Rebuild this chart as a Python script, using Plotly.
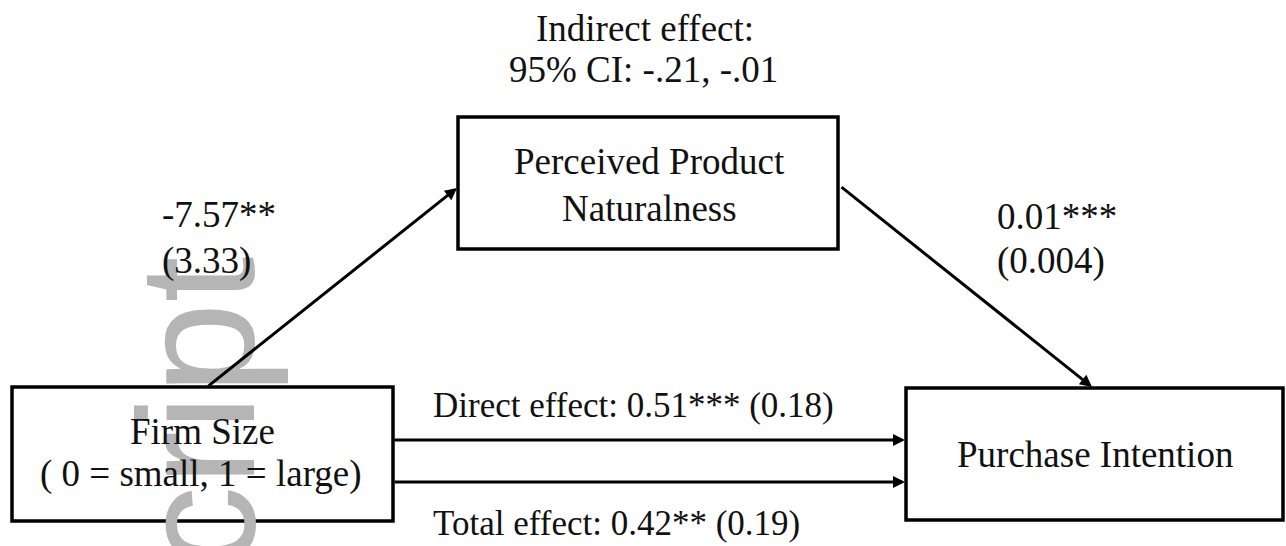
import plotly.graph_objects as go

# ---- diagram content (text) ----
firm_size_label = ["Firm Size", "( 0 = small, 1 = large)"]
mediator_label = ["Perceived Product", "Naturalness"]
outcome_label = ["Purchase Intention"]
indirect_label = ["Indirect effect:", "95% CI: -.21, -.01"]
path_a_label = ["-7.57**", "(3.33)"]
path_b_label = ["0.01***", "(0.004)"]
direct_label = ["Direct effect: 0.51*** (0.18)"]
total_label = ["Total effect: 0.42** (0.19)"]
watermark_label = ["Accepted Manuscript"]

W, H = 1286, 546
FONT = dict(family="Liberation Serif, Times New Roman, serif", size=37, color="#111111")
FONT_SMALL = dict(FONT, size=35)
LINE = "#000000"

# box geometry (pixel layout)
boxes = {
    "x": (12, 393, 387, 521),
    "m": (458, 838, 117, 249),
    "y": (906, 1283, 388, 520),
}

fig = go.Figure()
fig.add_trace(go.Scatter(x=[0, W], y=[0, H], mode="markers",
                         marker=dict(opacity=0), hoverinfo="skip", showlegend=False))

annotations = []

# watermark (behind everything else)
annotations.append(dict(x=196, y=255, xref="x", yref="y", text=watermark_label[0],
                        textangle=-90, xanchor="center", yanchor="top", showarrow=False,
                        font=dict(family="Liberation Sans, Arial, sans-serif", size=165,
                                  color="#b5b5b5")))

shapes = []
for key, (x0, x1, y0, y1) in boxes.items():
    shapes.append(dict(type="rect", x0=x0, x1=x1, y0=y0, y1=y1, xref="x", yref="y",
                       line=dict(color=LINE, width=3.5), fillcolor="rgba(0,0,0,0)",
                       layer="above"))


def txt(s, x, y, xanchor="center", font=FONT):
    annotations.append(dict(x=x, y=y, xref="x", yref="y", text=s, showarrow=False,
                            xanchor=xanchor, yanchor="middle", font=font))


# node labels
txt(firm_size_label[0], 202, 431)
txt(firm_size_label[1], 201, 474)
txt(mediator_label[0], 649, 161)
txt(mediator_label[1], 649, 208)
txt(outcome_label[0], 1095, 454)
txt(indirect_label[0], 645, 28)
txt(indirect_label[1], 643, 69)
txt(path_a_label[0], 160, 214, "left")
txt(path_a_label[1], 160, 261, "left")
txt(path_b_label[0], 995, 216, "left")
txt(path_b_label[1], 995, 261, "left")
txt(direct_label[0], 431, 405, "left", FONT_SMALL)
txt(total_label[0], 431, 523, "left", FONT_SMALL)


def arrow(x0, y0, x1, y1):
    annotations.append(dict(x=x1, y=y1, ax=x0, ay=y0, xref="x", yref="y",
                            axref="x", ayref="y", text="", showarrow=True,
                            arrowhead=2, arrowsize=0.8, arrowwidth=3,
                            arrowcolor=LINE, standoff=0, startstandoff=0))


arrow(207, 387, 457, 188)      # a path
arrow(840, 186, 1092, 387)     # b path
arrow(393, 440, 905, 440)      # direct
arrow(393, 482, 905, 482)      # total

fig.update_layout(
    width=W, height=H,
    margin=dict(l=0, r=0, t=0, b=0),
    paper_bgcolor="white", plot_bgcolor="white",
    xaxis=dict(range=[0, W], visible=False, fixedrange=True),
    yaxis=dict(range=[H, 0], visible=False, fixedrange=True),
    shapes=shapes, annotations=annotations, showlegend=False,
)

fig.write_html("out.html", config={"displayModeBar": False},
               post_script="document.body.style.margin='0';document.body.style.overflow='hidden';")
